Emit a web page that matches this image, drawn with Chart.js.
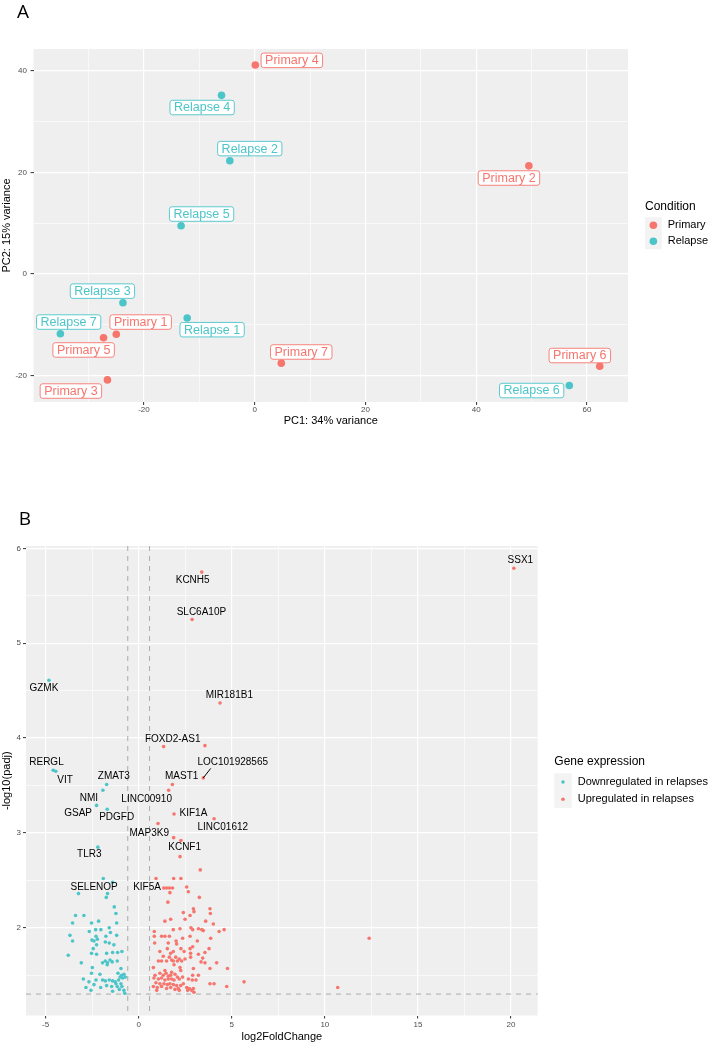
<!DOCTYPE html>
<html>
<head>
<meta charset="utf-8">
<script src="https://cdn.jsdelivr.net/npm/chart.js@4.4.1/dist/chart.umd.min.js"></script>
<style>
  body { margin: 0; background: #fff; width: 709px; height: 1044px; overflow: hidden; position: relative; }
  #pca { position: absolute; left: 0; top: 0; }
  #volcano { position: absolute; left: 0; top: 500px; }
</style>
</head>
<body>
<canvas id="pca" width="709" height="440"></canvas>
<canvas id="volcano" width="709" height="544"></canvas>
<script>
const FONT = '"Liberation Sans", Arial, Helvetica, sans-serif';
const RED = "#F6766E";
const TEAL = "#4CC5C9";

// ---- panel A: PCA ----
const pcaSamples = ["Primary 1", "Primary 2", "Primary 3", "Primary 4", "Primary 5", "Primary 6", "Primary 7",
  "Relapse 1", "Relapse 2", "Relapse 3", "Relapse 4", "Relapse 5", "Relapse 6", "Relapse 7"];
const pcaCondition = ["Primary", "Primary", "Primary", "Primary", "Primary", "Primary", "Primary",
  "Relapse", "Relapse", "Relapse", "Relapse", "Relapse", "Relapse", "Relapse"];
const pcaPC1 = [-25.0, 49.5, -26.6, 0.1, -27.3, 62.3, 4.8, -12.2, -4.5, -23.8, -6.0, -13.3, 56.8, -35.1];
const pcaPC2 = [-11.9, 21.3, -20.9, 41.2, -12.6, -18.2, -17.6, -8.7, 22.3, -5.7, 35.2, 9.5, -22.0, -11.8];
const pcaLabelPC1 = [-20.6, 45.9, -33.2, 6.7, -30.9, 58.7, 8.4, -7.7, -0.9, -27.5, -9.5, -9.6, 50.0, -33.6];
const pcaLabelPC2 = [-9.5, 18.9, -23.1, 42.1, -15.0, -16.1, -15.4, -11.0, 24.7, -3.4, 32.8, 11.8, -23.0, -9.5];
const pcaXBreaks = [-20, 0, 20, 40, 60];
const pcaXMinor = [-30, -10, 10, 30, 50];
const pcaYBreaks = [-20, 0, 20, 40];
const pcaYMinor = [-10, 10, 30];

// ---- panel B: volcano ----
const downLog2FC = [-4.82, -4.59, -4.45, -1.72, -1.92, -2.26, -1.69, -2.19, -1.90, -1.40,
  -3.23, -1.67, -1.74, -1.31, -1.22, -3.39, -2.94, -3.55, -2.53, -2.15,
  -1.18, -2.65, -2.31, -2.03, -1.58, -3.69, -2.29, -1.76, -1.52, -1.18,
  -3.55, -2.51, -2.40, -2.22, -1.79, -1.58, -2.44, -2.26, -1.33, -3.78,
  -2.53, -2.26, -1.72, -1.40, -1.13, -0.90, -3.08, -1.94, -1.79, -1.67,
  -1.54, -1.42, -1.15, -2.49, -1.69, -0.95, -2.53, -2.08, -1.11, -0.91,
  -0.79, -2.97, -2.67, -2.29, -1.94, -1.79, -1.58, -1.40, -1.26, -1.08,
  -1.00, -0.86, -0.72, -2.83, -2.56, -2.40, -2.04, -1.72, -1.45, -1.15,
  -1.04, -0.90, -0.79, -0.75, -1.40, -0.95, -1.22];
const downNegLog10Padj = [4.61, 3.66, 3.65, 3.51, 3.45, 3.29, 3.25, 2.85, 2.52, 2.48,
  2.36, 2.36, 2.32, 2.22, 2.15, 2.13, 2.13, 2.05, 2.05, 2.07,
  2.05, 1.96, 1.98, 1.98, 2.00, 1.92, 1.91, 1.91, 1.95, 1.92,
  1.86, 1.87, 1.86, 1.88, 1.85, 1.84, 1.78, 1.82, 1.82, 1.71,
  1.73, 1.72, 1.73, 1.74, 1.74, 1.75, 1.63, 1.63, 1.65, 1.63,
  1.66, 1.64, 1.65, 1.58, 1.61, 1.57, 1.52, 1.51, 1.52, 1.50,
  1.51, 1.46, 1.43, 1.45, 1.45, 1.44, 1.45, 1.44, 1.43, 1.45,
  1.48, 1.47, 1.48, 1.37, 1.34, 1.40, 1.37, 1.39, 1.38, 1.38,
  1.35, 1.38, 1.34, 1.31, 1.33, 1.41, 1.41];

const upLog2FC = [20.15, 3.39, 2.87, 4.37, 1.34, 3.56, 3.47, 1.81, 1.61, 1.90,
  4.05, 1.04, 1.88, 2.27, 2.22, 3.31, 0.93, 1.88, 2.27, 12.38,
  10.69, 1.35, 1.50, 1.65, 1.82, 2.58, 2.67, 1.68, 3.26, 1.57,
  3.83, 2.94, 2.97, 2.40, 2.76, 3.85, 1.41, 1.72, 2.49, 3.60,
  4.01, 0.84, 1.86, 2.22, 2.81, 2.90, 3.21, 3.39, 3.47, 4.32,
  4.59, 0.84, 1.23, 1.41, 1.65, 2.01, 2.36, 2.76, 3.15, 3.87,
  0.86, 1.59, 2.04, 1.54, 2.27, 2.76, 2.90, 3.78, 1.14, 1.72,
  1.86, 2.44, 2.79, 3.21, 3.56, 1.32, 1.65, 1.77, 1.99, 2.18,
  2.49, 2.79, 3.44, 1.06, 1.23, 1.50, 1.86, 2.08, 2.31, 3.35,
  3.56, 4.19, 0.79, 1.90, 2.22, 2.94, 3.83, 4.77, 1.41, 1.77,
  2.26, 2.90, 3.21, 0.88, 1.14, 1.32, 1.47, 1.59, 1.72, 1.95,
  2.08, 2.36, 0.82, 1.06, 1.23, 1.41, 1.59, 1.77, 1.90, 2.18,
  2.67, 2.88, 3.08, 0.93, 1.14, 1.36, 1.54, 1.68, 1.86, 2.04,
  2.26, 2.40, 3.83, 4.05, 5.66, 0.79, 1.00, 1.23, 1.50, 1.72,
  1.95, 2.13, 2.58, 2.72, 2.94, 4.73, 0.97, 2.18, 2.85, 2.97,
  2.63];
const upNegLog10Padj = [5.79, 5.75, 5.25, 4.37, 3.91, 3.92, 3.58, 3.51, 3.45, 3.20,
  3.15, 3.10, 2.95, 2.92, 2.75, 2.61, 2.52, 2.52, 2.52, 1.89,
  1.37, 2.42, 2.42, 2.42, 2.42, 2.43, 2.38, 2.37, 2.32, 2.27,
  2.20, 2.20, 2.17, 2.16, 2.13, 2.15, 2.07, 2.09, 2.09, 2.07,
  2.04, 1.96, 1.98, 1.99, 2.00, 1.98, 1.99, 1.98, 1.97, 1.96,
  1.98, 1.91, 1.91, 1.91, 1.91, 1.86, 1.89, 1.91, 1.86, 1.89,
  1.84, 1.84, 1.83, 1.78, 1.78, 1.78, 1.80, 1.78, 1.75, 1.73,
  1.75, 1.75, 1.73, 1.72, 1.74, 1.70, 1.69, 1.66, 1.69, 1.67,
  1.67, 1.69, 1.68, 1.65, 1.65, 1.65, 1.65, 1.65, 1.65, 1.64,
  1.63, 1.63, 1.58, 1.61, 1.58, 1.57, 1.57, 1.57, 1.55, 1.53,
  1.55, 1.50, 1.50, 1.50, 1.52, 1.50, 1.52, 1.49, 1.50, 1.51,
  1.48, 1.48, 1.47, 1.46, 1.47, 1.45, 1.46, 1.46, 1.45, 1.46,
  1.46, 1.45, 1.45, 1.42, 1.41, 1.41, 1.40, 1.41, 1.40, 1.39,
  1.39, 1.41, 1.41, 1.41, 1.43, 1.38, 1.37, 1.38, 1.36, 1.37,
  1.35, 1.36, 1.37, 1.36, 1.36, 1.38, 1.34, 1.34, 1.34, 1.32,
  1.34];

const geneNames = ["SSX1", "KCNH5", "SLC6A10P", "GZMK", "MIR181B1", "FOXD2-AS1", "RERGL", "LOC101928565",
  "VIT", "ZMAT3", "MAST1", "NMI", "LINC00910", "GSAP", "KIF1A", "PDGFD", "LINC01612", "MAP3K9",
  "KCNF1", "TLR3", "SELENOP", "KIF5A"];
const geneLabelX = [20.5, 2.90, 3.37, -5.09, 4.87, 1.83, -4.95, 5.05, -3.95, -1.33, 2.31, -2.67,
  0.43, -3.25, 2.94, -1.18, 4.52, 0.57, 2.47, -2.65, -2.39, 0.45];
const geneLabelY = [5.87, 5.66, 5.33, 4.52, 4.45, 3.99, 3.75, 3.75, 3.56, 3.60, 3.60, 3.37,
  3.35, 3.21, 3.21, 3.16, 3.06, 3.00, 2.85, 2.77, 2.43, 2.43];
// repel segment for LOC101928565: from its point to the label
const leaderFrom = [3.47, 3.58];
const leaderTo = [3.87, 3.68];

const fcCutoff = [-0.585, 0.585];
const padjCutoff = 1.301;
const volXBreaks = [-5, 0, 5, 10, 15, 20];
const volXMinor = [-2.5, 2.5, 7.5, 12.5, 17.5];
const volYBreaks = [2, 3, 4, 5, 6];
const volYMinor = [1.5, 2.5, 3.5, 4.5, 5.5];

function ggAxis(o) {
  const majors = new Set(o.major);
  const all = o.major.concat(o.minor).sort((a, b) => a - b);
  const isMajor = (c) => c.tick && majors.has(c.tick.value);
  return {
    type: "linear",
    min: o.min,
    max: o.max,
    border: { display: false },
    afterBuildTicks: (s) => { s.ticks = all.map((v) => ({ value: v })); },
    afterFit: (s) => {
      if (o.width) s.width = o.width;
      if (o.height) s.height = o.height;
    },
    grid: {
      color: "#FFFFFF",
      lineWidth: (c) => (isMajor(c) ? 1.2 : 0.6),
      tickColor: (c) => (isMajor(c) ? "#333333" : "rgba(0,0,0,0)"),
      tickLength: 3,
      tickWidth: 1,
    },
    ticks: {
      autoSkip: false,
      maxRotation: 0,
      padding: o.pad,
      color: "#4D4D4D",
      font: { family: FONT, size: 8 },
      callback: (v) => (majors.has(v) ? String(v) : ""),
    },
    title: { display: true, text: o.title, color: "#000", padding: 0, font: { family: FONT, size: 11 } },
  };
}

const panelBackground = {
  id: "panelBackground",
  beforeDraw(chart) {
    const { ctx, chartArea: a } = chart;
    ctx.save();
    ctx.fillStyle = "#EFEFEF";
    ctx.fillRect(a.left, a.top, a.right - a.left, a.bottom - a.top);
    ctx.restore();
  },
};

function roundRect(ctx, x, y, w, h, r) {
  ctx.beginPath();
  ctx.moveTo(x + r, y);
  ctx.lineTo(x + w - r, y);
  ctx.arcTo(x + w, y, x + w, y + r, r);
  ctx.lineTo(x + w, y + h - r);
  ctx.arcTo(x + w, y + h, x + w - r, y + h, r);
  ctx.lineTo(x + r, y + h);
  ctx.arcTo(x, y + h, x, y + h - r, r);
  ctx.lineTo(x, y + r);
  ctx.arcTo(x, y, x + r, y, r);
  ctx.closePath();
}

function drawLegend(ctx, lg) {
  ctx.save();
  ctx.textBaseline = "middle";
  ctx.textAlign = "left";
  ctx.fillStyle = "#000";
  ctx.font = "12px " + FONT;
  ctx.fillText(lg.title, lg.x, lg.titleY);
  ctx.fillStyle = "#F3F3F3";
  ctx.fillRect(lg.x, lg.keyTop, lg.keyW, lg.keyH * lg.items.length);
  ctx.font = "11px " + FONT;
  lg.items.forEach((it, i) => {
    const cy = lg.keyTop + lg.keyH * (i + 0.5);
    ctx.fillStyle = it.color;
    ctx.beginPath();
    ctx.arc(lg.x + lg.keyW / 2, cy, lg.r, 0, Math.PI * 2);
    ctx.fill();
    ctx.fillStyle = "#000";
    ctx.fillText(it.text, lg.x + lg.keyW + 6, cy);
  });
  ctx.restore();
}

function panelLetter(ctx, letter, x, y) {
  ctx.save();
  ctx.fillStyle = "#000";
  ctx.font = '19px "Open Sans", "DejaVu Sans", sans-serif';
  ctx.textAlign = "center";
  ctx.textBaseline = "middle";
  ctx.fillText(letter, x, y);
  ctx.restore();
}

// ---------- Panel A ----------
const pcaPoints = (cond) =>
  pcaSamples.map((s, i) => ({ x: pcaPC1[i], y: pcaPC2[i], c: pcaCondition[i] })).filter((p) => p.c === cond);

const pcaLabels = {
  id: "pcaLabels",
  afterDatasetsDraw(chart) {
    const { ctx, scales } = chart;
    ctx.save();
    ctx.font = "12.5px " + FONT;
    ctx.textAlign = "center";
    ctx.textBaseline = "middle";
    pcaSamples.forEach((name, i) => {
      const col = pcaCondition[i] === "Primary" ? RED : TEAL;
      const cx = scales.x.getPixelForValue(pcaLabelPC1[i]);
      const cy = scales.y.getPixelForValue(pcaLabelPC2[i]);
      const w = ctx.measureText(name).width + 8;
      const h = 14.5;
      roundRect(ctx, cx - w / 2, cy - h / 2, w, h, 2.5);
      ctx.fillStyle = "#FFFFFF";
      ctx.fill();
      ctx.strokeStyle = col;
      ctx.lineWidth = 0.9;
      ctx.stroke();
      ctx.fillStyle = col;
      ctx.fillText(name, cx, cy + 0.5);
    });
    ctx.restore();
  },
  afterDraw(chart) {
    const ctx = chart.ctx;
    drawLegend(ctx, {
      title: "Condition", x: 645, titleY: 207, keyTop: 217.3, keyW: 16.7, keyH: 16, r: 3.8,
      items: [{ text: "Primary", color: RED }, { text: "Relapse", color: TEAL }],
    });
    panelLetter(ctx, "A", 23, 13);
  },
};

new Chart(document.getElementById("pca"), {
  type: "scatter",
  data: {
    datasets: [
      { label: "Primary", data: pcaPoints("Primary"), backgroundColor: RED, pointRadius: 3.8, borderWidth: 0 },
      { label: "Relapse", data: pcaPoints("Relapse"), backgroundColor: TEAL, pointRadius: 3.8, borderWidth: 0 },
    ],
  },
  options: {
    responsive: false,
    animation: false,
    events: [],
    layout: { padding: { left: 0, top: 49, right: 81, bottom: 12.5 } },
    plugins: { legend: { display: false }, tooltip: { enabled: false } },
    scales: {
      x: ggAxis({ min: -39.95, max: 67.4, major: pcaXBreaks, minor: pcaXMinor, height: 25.5, pad: 0, title: "PC1: 34% variance" }),
      y: ggAxis({ min: -25.26, max: 44.34, major: pcaYBreaks, minor: pcaYMinor, width: 33.5, pad: 3.5, title: "PC2: 15% variance" }),
    },
  },
  plugins: [panelBackground, pcaLabels],
});

// ---------- Panel B ----------
const toXY = (xs, ys) => xs.map((x, i) => ({ x: x, y: ys[i] }));

const volcanoExtras = {
  id: "volcanoExtras",
  beforeDatasetsDraw(chart) {
    const { ctx, chartArea: a, scales } = chart;
    ctx.save();
    ctx.strokeStyle = "#ABABAB";
    ctx.lineWidth = 1;
    ctx.setLineDash([5, 5]);
    fcCutoff.forEach((v) => {
      const px = scales.x.getPixelForValue(v);
      ctx.beginPath();
      ctx.moveTo(px, a.top);
      ctx.lineTo(px, a.bottom);
      ctx.stroke();
    });
    const py = scales.y.getPixelForValue(padjCutoff);
    ctx.beginPath();
    ctx.moveTo(a.left, py);
    ctx.lineTo(a.right, py);
    ctx.stroke();
    ctx.restore();
  },
  afterDatasetsDraw(chart) {
    const { ctx, scales } = chart;
    ctx.save();
    ctx.strokeStyle = "#000";
    ctx.lineWidth = 1;
    ctx.beginPath();
    ctx.moveTo(scales.x.getPixelForValue(leaderFrom[0]), scales.y.getPixelForValue(leaderFrom[1]));
    ctx.lineTo(scales.x.getPixelForValue(leaderTo[0]), scales.y.getPixelForValue(leaderTo[1]));
    ctx.stroke();
    ctx.fillStyle = "#000";
    ctx.font = "10px " + FONT;
    ctx.textAlign = "center";
    ctx.textBaseline = "middle";
    geneNames.forEach((g, i) => {
      ctx.fillText(g, scales.x.getPixelForValue(geneLabelX[i]), scales.y.getPixelForValue(geneLabelY[i]));
    });
    ctx.restore();
  },
  afterDraw(chart) {
    const ctx = chart.ctx;
    drawLegend(ctx, {
      title: "Gene expression", x: 554.3, titleY: 261.5, keyTop: 273.3, keyW: 17.4, keyH: 17.3, r: 1.8,
      items: [{ text: "Downregulated in relapses", color: TEAL }, { text: "Upregulated in relapses", color: RED }],
    });
    panelLetter(ctx, "B", 25, 20);
  },
};

new Chart(document.getElementById("volcano"), {
  type: "scatter",
  data: {
    datasets: [
      { label: "Downregulated in relapses", data: toXY(downLog2FC, downNegLog10Padj), backgroundColor: TEAL, pointRadius: 1.8, borderWidth: 0 },
      { label: "Upregulated in relapses", data: toXY(upLog2FC, upNegLog10Padj), backgroundColor: RED, pointRadius: 1.8, borderWidth: 0 },
    ],
  },
  options: {
    responsive: false,
    animation: false,
    events: [],
    layout: { padding: { left: 0, top: 46, right: 171.3, bottom: 0.5 } },
    plugins: { legend: { display: false }, tooltip: { enabled: false } },
    scales: {
      x: ggAxis({ min: -6.05, max: 21.43, major: volXBreaks, minor: volXMinor, height: 28, pad: 1, title: "log2FoldChange" }),
      y: ggAxis({ min: 1.075, max: 6.025, major: volYBreaks, minor: volYMinor, width: 26, pad: 2, title: "-log10(padj)" }),
    },
  },
  plugins: [panelBackground, volcanoExtras],
});
</script>
</body>
</html>
